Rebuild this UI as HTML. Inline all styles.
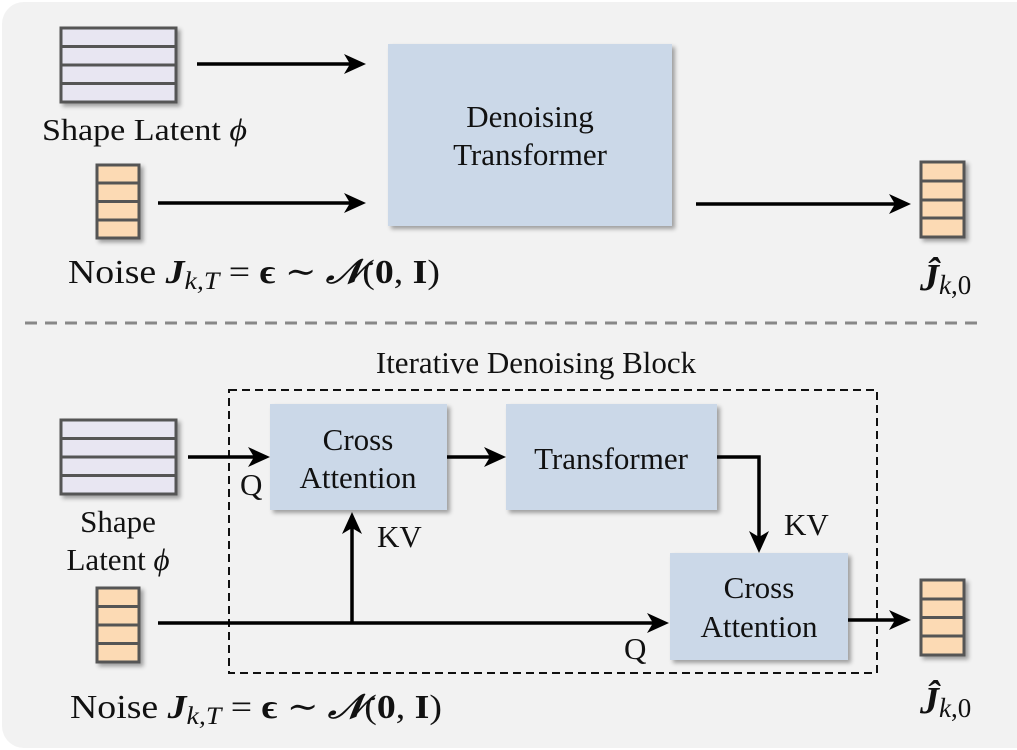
<!DOCTYPE html>
<html><head><meta charset="utf-8"><style>
html,body{margin:0;padding:0;background:#fff;}
svg{display:block;}
svg text{font-family:"Liberation Serif","Times New Roman",Times,"DejaVu Serif",serif;}
</style></head><body>
<svg width="1017" height="750" viewBox="0 0 1017 750" xmlns="http://www.w3.org/2000/svg">
<defs>
<filter id="sh" x="-10%" y="-10%" width="130%" height="130%"><feDropShadow dx="3" dy="3" stdDeviation="2" flood-color="#000" flood-opacity="0.35"/></filter>
</defs>
<rect x="2" y="2" width="1040" height="746" rx="22" fill="#f2f2f2"/>

<g stroke="#555" stroke-width="3">
<g filter="url(#sh)"><rect x="61" y="28" width="115" height="74" fill="#e8e6f2"/></g>
<line x1="61" y1="46.5" x2="176" y2="46.5"/><line x1="61" y1="65" x2="176" y2="65"/><line x1="61" y1="83.5" x2="176" y2="83.5"/>
<g filter="url(#sh)"><rect x="97" y="165" width="42" height="73" fill="#fcdab4"/></g>
<line x1="97" y1="183" x2="139" y2="183"/><line x1="97" y1="201.5" x2="139" y2="201.5"/><line x1="97" y1="220" x2="139" y2="220"/>
<g filter="url(#sh)"><rect x="921" y="162" width="43" height="75" fill="#fcdab4"/></g>
<line x1="921" y1="181" x2="964" y2="181"/><line x1="921" y1="200" x2="964" y2="200"/><line x1="921" y1="218" x2="964" y2="218"/>
<g filter="url(#sh)"><rect x="61" y="420" width="115" height="74" fill="#e8e6f2"/></g>
<line x1="61" y1="438.5" x2="176" y2="438.5"/><line x1="61" y1="457" x2="176" y2="457"/><line x1="61" y1="475.5" x2="176" y2="475.5"/>
<g filter="url(#sh)"><rect x="97" y="588" width="42" height="74" fill="#fcdab4"/></g>
<line x1="97" y1="606.5" x2="139" y2="606.5"/><line x1="97" y1="625" x2="139" y2="625"/><line x1="97" y1="643.5" x2="139" y2="643.5"/>
<g filter="url(#sh)"><rect x="921" y="580" width="43" height="75" fill="#fcdab4"/></g>
<line x1="921" y1="599" x2="964" y2="599"/><line x1="921" y1="617.5" x2="964" y2="617.5"/><line x1="921" y1="636" x2="964" y2="636"/>
</g>

<g filter="url(#sh)">
<rect x="388" y="44" width="284" height="182" fill="#cbd8e8"/>
<rect x="270" y="404" width="177" height="106" fill="#cbd8e8"/>
<rect x="506" y="404" width="211" height="106" fill="#cbd8e8"/>
<rect x="670" y="553" width="178" height="107" fill="#cbd8e8"/>
</g>

<line x1="25" y1="323" x2="982" y2="323" stroke="#888" stroke-width="3" stroke-dasharray="12,8"/>
<rect x="229" y="390" width="648" height="283" fill="none" stroke="#111" stroke-width="2" stroke-dasharray="8,5"/>

<g stroke="#000" stroke-width="3.5" fill="none">
<line x1="197" y1="64" x2="360" y2="64"/>
<line x1="158" y1="203" x2="360" y2="203"/>
<line x1="696" y1="204" x2="905" y2="204"/>
<line x1="188" y1="457" x2="264" y2="457"/>
<line x1="447" y1="457" x2="500" y2="457"/>
<polyline points="717,457 759,457 759,548"/>
<line x1="158" y1="623" x2="663" y2="623"/>
<line x1="352" y1="623" x2="352" y2="518"/>
<line x1="848" y1="620" x2="905" y2="620"/>
</g>
<g fill="#000">
<polygon points="366,64 344,54 350,64 344,74"/>
<polygon points="366,203 344,193 350,203 344,213"/>
<polygon points="911,204 889,194 895,204 889,214"/>
<polygon points="270,457 248,447 254,457 248,467"/>
<polygon points="506,457 484,447 490,457 484,467"/>
<polygon points="759,553 749,531 759,537 769,531"/>
<polygon points="669,623 647,613 653,623 647,633"/>
<polygon points="352,512 342,534 352,528 362,534"/>
<polygon points="911,620 889,610 895,620 889,630"/>
</g>

<g font-size="31" fill="#111">
<text x="42" y="140" textLength="205" lengthAdjust="spacingAndGlyphs">Shape Latent <tspan font-style="italic">ϕ</tspan></text>
<text x="530" y="127" text-anchor="middle">Denoising</text>
<text x="530" y="165" text-anchor="middle">Transformer</text>
<text x="536" y="373" text-anchor="middle">Iterative Denoising Block</text>
<text x="358" y="450" text-anchor="middle">Cross</text>
<text x="358" y="488" text-anchor="middle">Attention</text>
<text x="611" y="469" text-anchor="middle">Transformer</text>
<text x="759" y="598" text-anchor="middle">Cross</text>
<text x="759" y="637" text-anchor="middle">Attention</text>
<text x="118" y="532" text-anchor="middle">Shape</text>
<text x="118" y="570" text-anchor="middle">Latent <tspan font-style="italic">ϕ</tspan></text>
<text x="240" y="495">Q</text>
<text x="377" y="547">KV</text>
<text x="784" y="535">KV</text>
<text x="624" y="659">Q</text>
</g>
<g font-size="34" fill="#111">
<text x="68" y="283" textLength="372" lengthAdjust="spacingAndGlyphs">Noise <tspan font-weight="bold" font-style="italic">J</tspan><tspan font-style="italic" font-size="25" dy="6">k,T</tspan><tspan dy="-6"> = </tspan><tspan font-weight="bold">ϵ</tspan> ∼ <tspan font-weight="bold" font-style="italic">𝒩</tspan>(<tspan font-weight="bold">0</tspan>, <tspan font-weight="bold">I</tspan>)</text>
<text x="70" y="718" textLength="372" lengthAdjust="spacingAndGlyphs">Noise <tspan font-weight="bold" font-style="italic">J</tspan><tspan font-style="italic" font-size="25" dy="6">k,T</tspan><tspan dy="-6"> = </tspan><tspan font-weight="bold">ϵ</tspan> ∼ <tspan font-weight="bold" font-style="italic">𝒩</tspan>(<tspan font-weight="bold">0</tspan>, <tspan font-weight="bold">I</tspan>)</text>
<text x="920" y="290" font-size="38"><tspan font-weight="bold" font-style="italic">Ĵ</tspan><tspan font-style="italic" font-size="27" dy="4">k</tspan><tspan font-size="27">,0</tspan></text>
<text x="920" y="713" font-size="38"><tspan font-weight="bold" font-style="italic">Ĵ</tspan><tspan font-style="italic" font-size="27" dy="4">k</tspan><tspan font-size="27">,0</tspan></text>
</g>
</svg>
</body></html>
